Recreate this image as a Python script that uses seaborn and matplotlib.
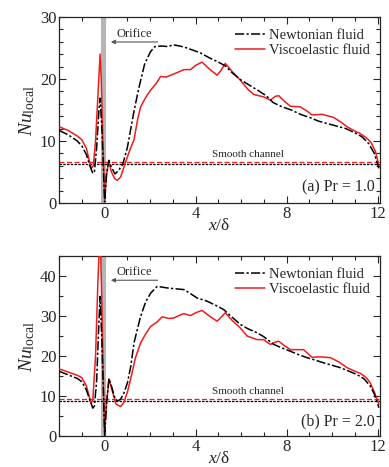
import matplotlib
matplotlib.use("Agg")
import matplotlib.pyplot as plt
from matplotlib.ticker import MultipleLocator
import seaborn as sns
import pandas as pd

# ---------------- data ----------------
x_newt_a = [-2, -1.6, -1.2, -1.0, -0.8, -0.65, -0.52, -0.45, -0.35, -0.25, -0.2, -0.12, -0.05, 0.0, 0.08, 0.18,
            0.3, 0.45, 0.6, 0.8, 1.0, 1.3, 1.5, 1.75, 2.0, 2.2, 2.5, 2.8, 3.0, 3.3, 3.6, 3.9, 4.2, 4.6, 5.0, 5.3,
            5.6, 6.0, 6.4, 6.8, 7.1, 7.4, 7.8, 8.2, 8.6, 9.0, 9.4, 9.8, 10.2, 10.6, 11.0, 11.3, 11.6, 11.85, 12.05]
y_newt_a = [11.7, 11.0, 10.0, 9.2, 7.8, 6.0, 4.8, 5.0, 9.0, 15.0, 16.9, 12.0, 5.0, 0.2, 4.5, 6.9,
            5.8, 4.7, 5.2, 6.3, 9.0, 15.0, 18.5, 22.3, 24.3, 25.2, 25.3, 25.2, 25.5, 25.3, 25.0, 24.6, 24.2, 23.4, 22.7, 22.1,
            21.0, 19.8, 18.9, 18.0, 17.3, 16.2, 15.5, 15.0, 14.3, 13.8, 13.2, 12.8, 12.4, 12.0, 11.3, 10.7, 9.6, 8.0, 5.6]

x_visc_a = [-2, -1.6, -1.2, -1.0, -0.8, -0.65, -0.58, -0.5, -0.4, -0.3, -0.2, -0.15, -0.08, 0.0, 0.08, 0.18,
            0.3, 0.45, 0.56, 0.7, 0.92, 1.1, 1.29, 1.45, 1.58, 1.8, 2.02, 2.25, 2.46, 2.7, 3.04, 3.3, 3.48, 3.77,
            4.0, 4.28, 4.6, 4.94, 5.1, 5.3, 5.6, 5.96, 6.3, 6.55, 6.99, 7.28, 7.5, 7.65, 7.9, 8.16, 8.6, 8.9,
            9.11, 9.55, 10.06, 10.4, 10.65, 11.0, 11.23, 11.5, 11.7, 11.9, 12.05]
y_visc_a = [12.3, 11.7, 10.8, 10.2, 8.8, 6.5, 5.6, 6.0, 10.0, 17.0, 24.0, 20.0, 10.0, 0.5, 4.5, 6.7,
            5.0, 3.9, 3.7, 4.2, 6.6, 8.5, 10.2, 13.5, 15.5, 17.0, 18.2, 19.2, 20.4, 20.3, 20.8, 21.2, 21.5, 21.5,
            22.2, 22.7, 21.6, 20.6, 21.3, 22.5, 21.2, 19.8, 18.3, 17.5, 17.1, 16.6, 17.2, 17.3, 16.4, 15.6, 15.5, 14.8,
            14.2, 14.3, 13.8, 13.0, 12.3, 11.6, 11.2, 10.5, 9.8, 8.3, 6.1]

x_newt_b = [-2, -1.6, -1.2, -1.0, -0.8, -0.65, -0.52, -0.45, -0.35, -0.27, -0.2, -0.13, -0.05, 0.0, 0.08, 0.19,
            0.3, 0.45, 0.56, 0.7, 0.85, 1.0, 1.15, 1.29, 1.45, 1.58, 1.8, 2.02, 2.31, 2.75, 3.1, 3.48, 3.77, 4.06,
            4.5, 4.9, 5.23, 5.6, 5.96, 6.3, 6.7, 7.0, 7.43, 7.8, 8.16, 8.5, 8.89, 9.25, 9.62, 10.0, 10.35, 10.7,
            11.08, 11.4, 11.67, 11.85, 12.05]
y_newt_b = [16.2, 15.3, 14.4, 13.6, 11.5, 9.0, 7.0, 7.5, 14.0, 26.0, 34.9, 25.0, 10.0, 0.2, 8.0, 14.4,
            12.5, 9.5, 8.8, 9.2, 10.8, 13.3, 17.5, 23.3, 27.0, 29.9, 33.5, 35.7, 37.4, 37.0, 36.8, 36.6, 35.6, 34.5,
            33.7, 32.6, 31.6, 29.7, 27.9, 26.8, 25.8, 24.8, 22.9, 22.0, 21.2, 20.4, 19.6, 19.0, 18.3, 17.7, 17.1, 16.3,
            15.4, 14.3, 12.5, 10.5, 7.1]

x_visc_b = [-2, -1.6, -1.2, -1.0, -0.8, -0.68, -0.6, -0.52, -0.4, -0.3, -0.2, -0.13, -0.05, 0.0, 0.08, 0.19,
            0.35, 0.5, 0.7, 0.85, 1.0, 1.14, 1.35, 1.58, 1.8, 2.02, 2.3, 2.53, 2.8, 3.04, 3.3, 3.48, 3.77, 4.0,
            4.28, 4.6, 4.94, 5.1, 5.3, 5.6, 5.96, 6.26, 6.7, 6.99, 7.28, 7.5, 7.65, 7.9, 8.16, 8.74, 9.11, 9.5,
            9.92, 10.3, 10.65, 11.0, 11.23, 11.5, 11.67, 11.85, 12.05]
y_visc_b = [16.8, 16.0, 15.2, 14.6, 12.5, 10.0, 8.2, 9.0, 20.0, 38.0, 52.0, 35.0, 12.0, 0.5, 8.0, 14.3,
            11.0, 8.0, 7.4, 8.5, 11.0, 14.2, 19.5, 23.3, 25.5, 27.4, 28.5, 29.8, 29.4, 29.5, 30.2, 30.6, 30.1, 30.8,
            31.4, 30.0, 28.7, 29.6, 30.8, 28.9, 27.0, 25.0, 24.1, 24.1, 22.9, 23.5, 23.7, 22.6, 21.6, 21.6, 19.7, 19.8,
            19.6, 18.5, 17.1, 16.2, 15.7, 14.6, 13.3, 11.0, 8.0]

smooth_newt = [6.24, 8.7]
smooth_visc = [6.66, 9.4]
panel_labels = ["(a) Pr = 1.0", "(b) Pr = 2.0"]
ylims = [30, 45]
ymajor = [10, 10]
yminor = [2, 5]
series_names = ["Newtonian fluid", "Viscoelastic fluid"]

# ---------------- style ----------------
sns.set_theme(style="ticks")
plt.rcParams["font.family"] = ["Liberation Serif", "DejaVu Serif"]
plt.rcParams["mathtext.fontset"] = "custom"
plt.rcParams["mathtext.rm"] = "Liberation Serif"
plt.rcParams["mathtext.it"] = "Liberation Serif:italic"

fig = plt.figure(figsize=(3.89, 4.67), dpi=100)
axes = [fig.add_axes([0.152, 0.565, 0.825, 0.399]),
        fig.add_axes([0.152, 0.066, 0.825, 0.386])]

data = [(x_newt_a, y_newt_a, x_visc_a, y_visc_a), (x_newt_b, y_newt_b, x_visc_b, y_visc_b)]

for i, ax in enumerate(axes):
    xn, yn, xv, yv = data[i]
    ax.axvspan(-0.15, 0.05, color="#b5b5b5", lw=0, zorder=1)
    dn = pd.DataFrame({"x": xn, "y": yn})
    dv = pd.DataFrame({"x": xv, "y": yv})
    sns.lineplot(data=dv, x="x", y="y", ax=ax, color="#ee1c1c", lw=1.1, estimator=None, sort=False,
                 label=series_names[1], zorder=3)
    sns.lineplot(data=dn, x="x", y="y", ax=ax, color="black", lw=1.1, estimator=None, sort=False,
                 label=series_names[0], zorder=4, dashes=False)
    ax.lines[-1].set_dashes([6, 1.5, 1.5, 1.5])
    ax.axhline(smooth_visc[i], color="#ee1c1c", lw=0.9, dashes=(4, 2), zorder=2)
    ax.axhline(smooth_newt[i], color="black", lw=0.9, dashes=(2, 1), zorder=2)

    ax.set_xlim(-2, 12.1)
    ax.set_ylim(0, ylims[i])
    ax.xaxis.set_major_locator(MultipleLocator(4))
    ax.xaxis.set_minor_locator(MultipleLocator(1))
    ax.yaxis.set_major_locator(MultipleLocator(ymajor[i]))
    ax.yaxis.set_minor_locator(MultipleLocator(yminor[i]))
    ax.tick_params(which="both", direction="in", top=True, right=True, labelsize=12, width=0.8, pad=2)
    ax.tick_params(which="major", length=5)
    ax.tick_params(which="minor", length=3)
    for s in ax.spines.values():
        s.set_linewidth(0.9)
    ax.set_xlabel(r"$x$/δ", fontsize=12.5, labelpad=-3)
    ax.set_ylabel(r"$Nu_{\mathrm{local}}$", fontsize=14, labelpad=2)

    h, l = ax.get_legend_handles_labels()
    order = [l.index(series_names[0]), l.index(series_names[1])]
    ax.legend([h[k] for k in order], [l[k] for k in order], loc="upper right", frameon=False,
              fontsize=10.5, handlelength=2.0, handletextpad=0.3, labelspacing=0.1,
              borderaxespad=0.3, bbox_to_anchor=(1.0, 0.99))

    ax.text(0.985, 0.04, panel_labels[i], transform=ax.transAxes, ha="right", va="bottom", fontsize=11.5)
    ax.annotate("", xy=(0.15, ylims[i] * 0.865), xytext=(2.45, ylims[i] * 0.865),
                arrowprops=dict(arrowstyle="-|>", color="#555555", lw=0.8, mutation_scale=6))
    ax.text(1.3, ylims[i] * 0.875, "Orifice", ha="center", va="bottom", fontsize=9)
    ax.text(6.3, smooth_visc[i] + ylims[i] * 0.015, "Smooth channel", ha="center", va="bottom", fontsize=8)

fig.savefig("out.png", dpi=100)
